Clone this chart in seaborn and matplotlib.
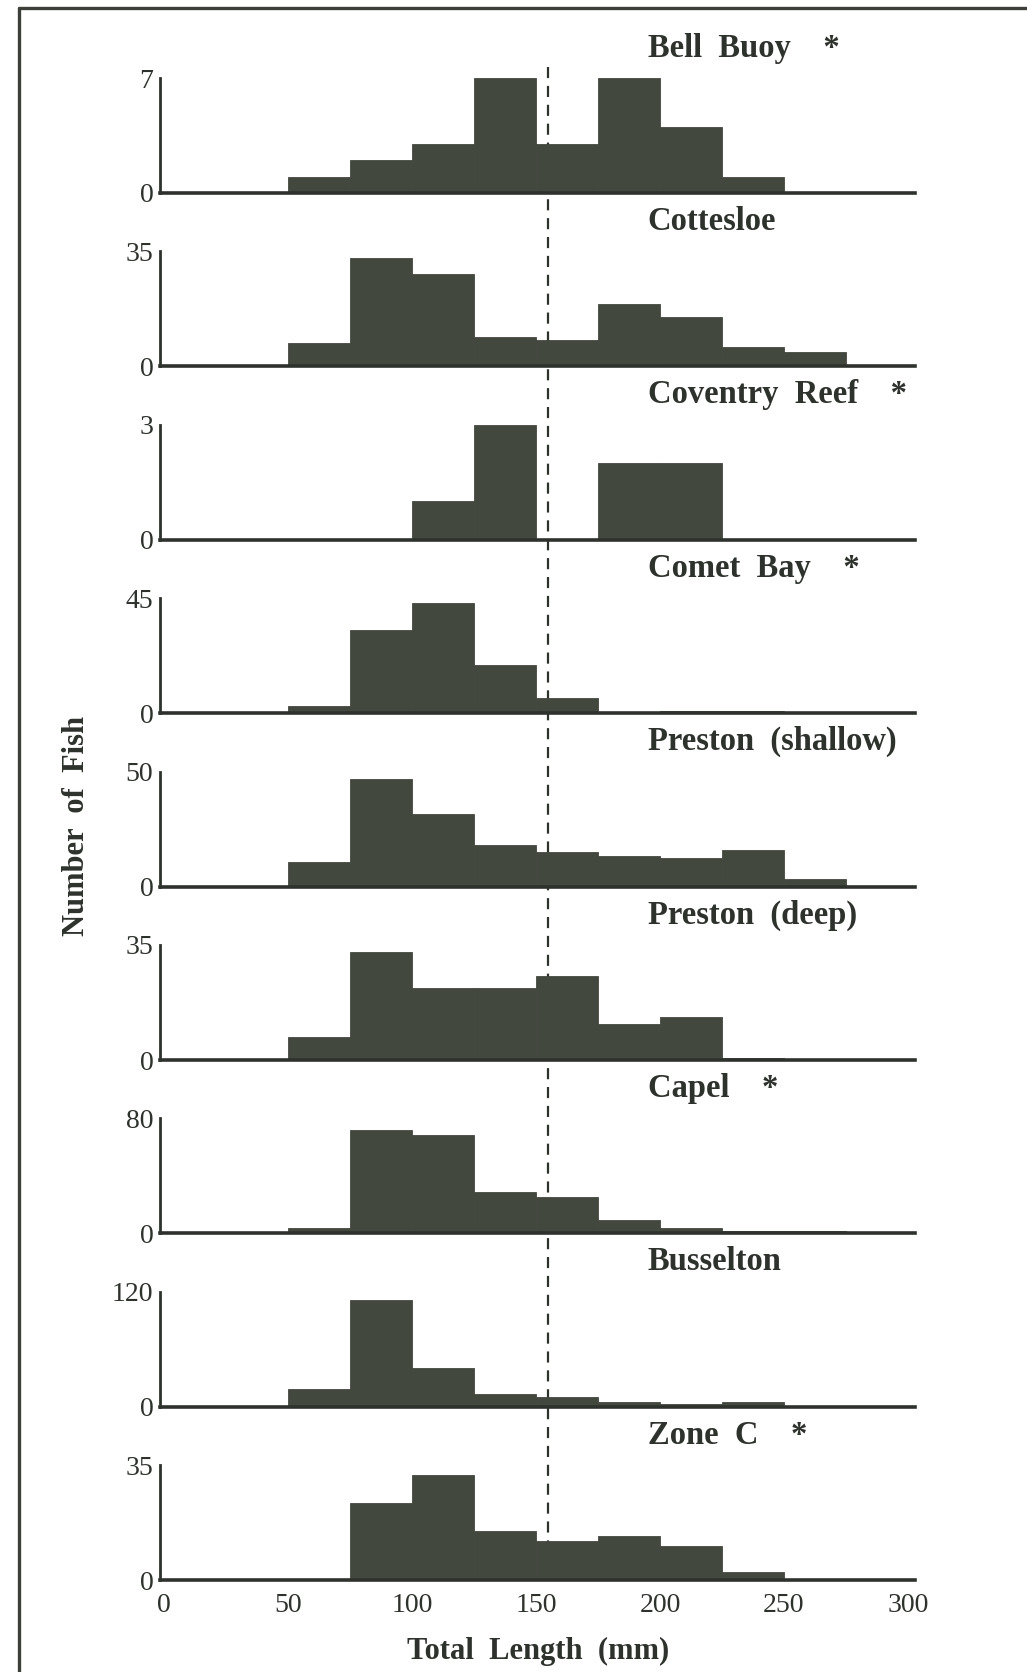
import numpy as np
import pandas as pd
import matplotlib
matplotlib.use("Agg")
import matplotlib.pyplot as plt
from matplotlib.lines import Line2D
import seaborn as sns

# 25 mm length classes from 0 to 300 mm
bin_edges = np.arange(0, 301, 25)
bin_mid = bin_edges[:-1] + 12.5

sites = ["Bell  Buoy    *", "Cottesloe", "Coventry  Reef    *", "Comet  Bay    *",
         "Preston  (shallow)", "Preston  (deep)", "Capel    *", "Busselton",
         "Zone  C    *"]
y_top = [7, 35, 3, 45, 50, 35, 80, 120, 35]

bell_buoy = [0, 0, 1, 2, 3, 7, 3, 7, 4, 1, 0, 0]
cottesloe = [0, 0, 7, 33, 28, 9, 8, 19, 15, 6, 4.5, 0.5]
coventry_reef = [0, 0, 0, 0, 1, 3, 0, 2, 2, 0, 0, 0]
comet_bay = [0, 0, 3, 32.5, 43, 19, 6, 0.3, 1, 1, 0, 0]
preston_shallow = [0, 0, 10.5, 47, 31.5, 18, 15, 13.5, 12.5, 16, 3.5, 0.3]
preston_deep = [0, 0, 7, 33, 22, 22, 25.5, 11, 13, 0.7, 0.2, 0]
capel = [0, 0, 3.5, 72, 68.5, 29, 25.5, 9, 3.5, 2, 2, 0.3]
busselton = [0, 0, 19, 111, 40, 13, 10.5, 5, 2.5, 5, 0.3, 0.3]
zone_c = [0, 0, 0, 23.5, 32, 15, 12, 13.5, 10.5, 2.5, 0, 0]

counts = [bell_buoy, cottesloe, coventry_reef, comet_bay, preston_shallow,
          preston_deep, capel, busselton, zone_c]

x_ticks = [0, 50, 100, 150, 200, 250, 300]
split_length = 155

sns.set_theme(style="white")
plt.rcParams["font.family"] = ["Liberation Serif", "DejaVu Serif"]

BAR = "#43483f"
INK = "#2e322d"

W, H = 1027, 1672
fig = plt.figure(figsize=(W / 100, H / 100), dpi=100)
fig.patch.set_facecolor("white")

x_lo, x_hi = -1.5, 303
x0_px, x300_px = 164, 908
px_per_mm = (x300_px - x0_px) / 300
ax_left_px = x0_px + x_lo * px_per_mm
ax_right_px = x0_px + x_hi * px_per_mm
first_top_px, step_px, height_px = 78, 173.4, 115

axes = []
for i, (name, ymax, vals) in enumerate(zip(sites, y_top, counts)):
    top = first_top_px + i * step_px
    ax = fig.add_axes([ax_left_px / W, 1 - (top + height_px) / H,
                       (ax_right_px - ax_left_px) / W, height_px / H])
    ax.patch.set_visible(False)
    df = pd.DataFrame({"length": bin_mid, "n": vals})
    sns.histplot(data=df, x="length", weights="n", binwidth=25, binrange=(0, 300),
                 ax=ax, color=BAR, alpha=1, edgecolor=BAR, linewidth=0.6)
    ax.set_xlim(x_lo, x_hi)
    ax.set_ylim(0, ymax)
    ax.set_xlabel("")
    ax.set_ylabel("")
    ax.set_axisbelow(True)
    for side in ("top", "right"):
        ax.spines[side].set_visible(False)
    ax.spines["left"].set_color(INK)
    ax.spines["left"].set_linewidth(2)
    ax.spines["left"].set_bounds(0, ymax)
    ax.spines["bottom"].set_color(INK)
    ax.spines["bottom"].set_linewidth(2.6)
    ax.spines["bottom"].set_bounds(x_lo, x_hi)
    ax.set_yticks([0, ymax])
    ax.set_yticklabels(["0", str(ymax)])
    ax.set_xticks(x_ticks)
    ax.tick_params(axis="y", direction="in", length=5, width=2, color=INK,
                   labelsize=20, labelcolor=INK, pad=5)
    ax.tick_params(axis="x", direction="in", length=6, width=1.5, color=INK,
                   labelsize=20, labelcolor=INK, pad=9,
                   labelbottom=(i == len(sites) - 1))
    ax.text(195, 1.26, name, transform=ax.get_xaxis_transform(),
            ha="left", va="center", fontsize=23.5, fontweight="bold", color=INK)
    axes.append(ax)

# dashed split line running through all panels, behind the bars
x_frac = (x0_px + split_length * px_per_mm) / W
y_start = 1 - 67 / H
y_end = axes[-1].get_position().y0
fig.add_artist(Line2D([x_frac, x_frac], [y_start, y_end], transform=fig.transFigure,
                      color=INK, linewidth=1.6, linestyle=(0, (5, 3.5)), zorder=-1))

# page frame
fig.add_artist(Line2D([19 / W, 19 / W], [1 - 8 / H, 0], transform=fig.transFigure,
                      color="#3c4039", linewidth=2.4))
fig.add_artist(Line2D([19 / W, 1], [1 - 8 / H, 1 - 8 / H], transform=fig.transFigure,
                      color="#3c4039", linewidth=2.4))

fig.text(77 / W, 1 - 826 / H, "Number  of  Fish", rotation=90, ha="center",
         va="center", fontsize=22, fontweight="bold", color=INK)
fig.text(538 / W, 21 / H, "Total  Length  (mm)", ha="center", va="center",
         fontsize=22, fontweight="bold", color=INK)

fig.savefig("out.png", dpi=100, facecolor="white")
